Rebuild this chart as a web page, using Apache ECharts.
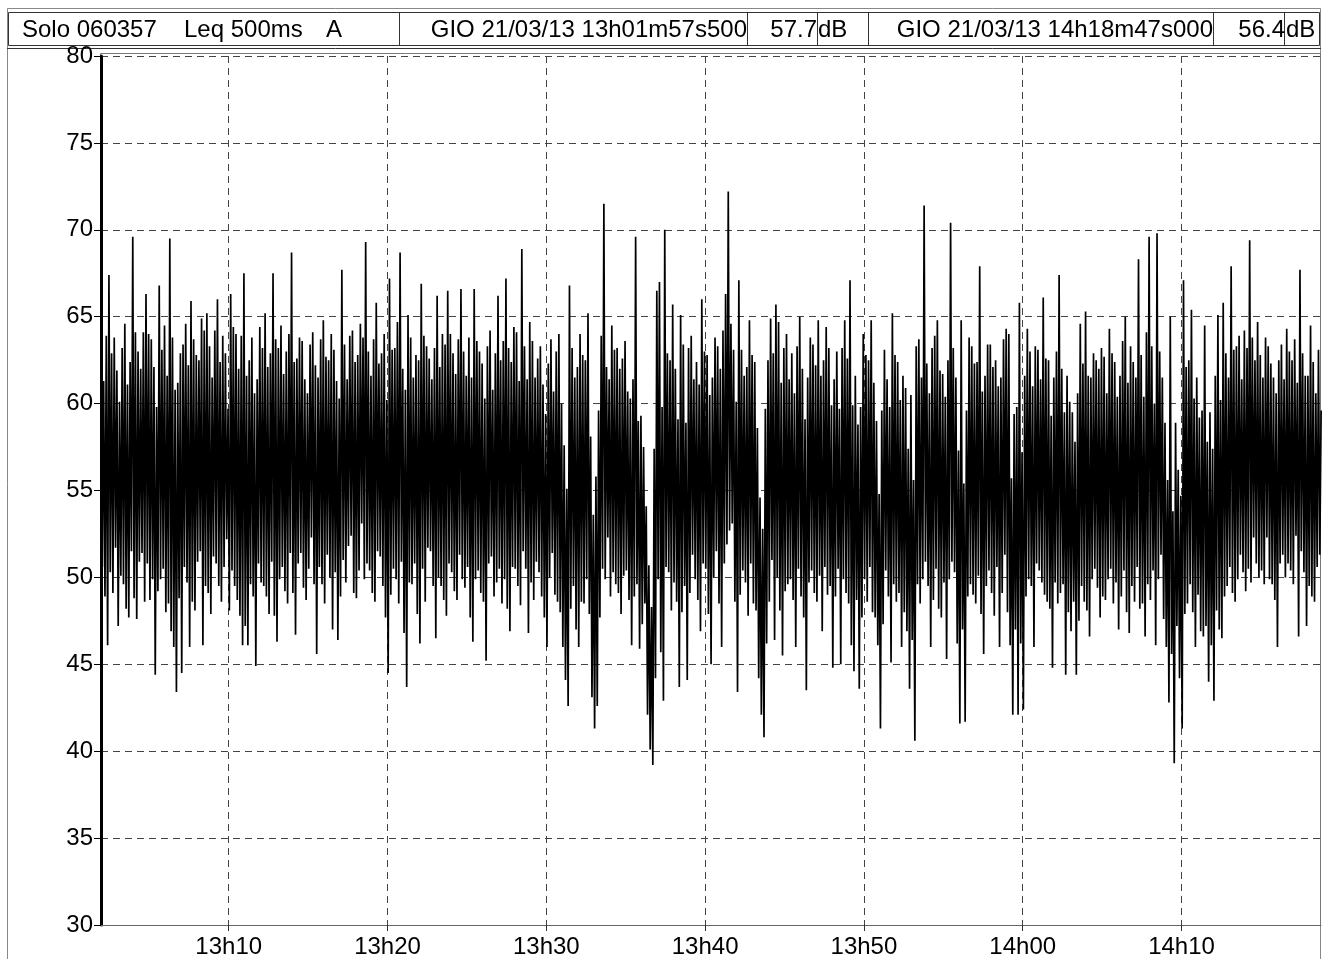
<!DOCTYPE html>
<html>
<head>
<meta charset="utf-8">
<script src="https://cdn.jsdelivr.net/npm/echarts@6/dist/echarts.min.js"></script>
<style>
  html, body { margin: 0; padding: 0; background: #fff; }
  #chart { width: 1322px; height: 959px; }
</style>
</head>
<body>
<div id="chart"></div>
<script>
// minutes after 13h00
var startMin = 1 + 57.5 / 60;   // 13h01m57s500
var endMin = 78 + 47 / 60;      // 14h18m47s000
var stepMin = 5 / 60;           // readings alternate peak / dip every 5 s

var tickMinutes = [10, 20, 30, 40, 50, 60, 70];
var tickLabels = ['13h10', '13h20', '13h30', '13h40', '13h50', '14h00', '14h10'];

// Leq 500ms A, dB - upper readings (even samples)
var peaks = [
    60.4, 61.3, 63.9, 67.4, 62.9, 63.8, 61.9, 60.1, 63.2, 64.6, 61.1, 62.4, 69.6, 64.1, 63.0, 62.0, 64.1, 66.3, 64.0, 63.7,
    62.1, 59.8, 66.8, 63.1, 64.5, 61.6, 69.5, 63.8, 60.8, 61.2, 62.9, 63.4, 64.6, 62.2, 65.9, 63.7, 62.8, 62.5, 64.9, 64.2,
    65.2, 63.3, 61.5, 64.2, 66.0, 62.4, 63.9, 62.9, 59.7, 66.3, 64.4, 64.0, 62.0, 63.9, 67.5, 61.6, 62.5, 63.8, 60.6, 61.4,
    64.4, 63.2, 65.2, 62.1, 62.9, 67.5, 63.7, 63.2, 64.5, 61.7, 63.0, 64.0, 68.7, 62.4, 62.6, 63.8, 63.6, 61.4, 60.6, 63.4,
    64.1, 62.2, 61.5, 63.7, 64.8, 62.7, 62.5, 64.0, 63.1, 61.3, 60.3, 67.7, 63.4, 61.4, 63.9, 64.2, 62.4, 62.8, 64.6, 63.8,
    69.3, 63.0, 61.6, 63.7, 65.8, 62.3, 62.9, 64.0, 60.2, 67.2, 63.1, 63.2, 64.7, 68.7, 62.0, 60.8, 65.1, 63.8, 61.5, 62.8,
    62.5, 66.9, 63.9, 63.3, 62.6, 61.4, 63.2, 66.2, 62.1, 64.0, 63.4, 66.5, 64.0, 62.9, 61.7, 63.7, 66.6, 63.0, 61.6, 63.8,
    61.5, 66.6, 63.6, 63.0, 62.3, 60.3, 63.3, 64.2, 60.8, 62.9, 66.2, 62.5, 63.6, 67.2, 63.2, 62.4, 64.4, 64.1, 61.3, 68.9,
    63.3, 61.4, 64.7, 63.6, 61.5, 62.6, 63.3, 61.1, 59.4, 62.3, 63.7, 60.7, 63.0, 64.0, 60.0, 57.6, 55.1, 66.8, 63.2, 61.5,
    62.1, 64.0, 62.8, 62.5, 65.2, 58.1, 53.6, 55.8, 59.6, 63.9, 71.5, 62.1, 61.4, 64.5, 63.1, 63.2, 62.0, 62.6, 63.6, 60.7,
    60.3, 61.4, 69.6, 59.0, 59.3, 57.5, 54.1, 50.7, 48.3, 57.4, 66.5, 67.0, 59.8, 70.0, 62.9, 62.5, 65.7, 62.0, 59.1, 65.1,
    63.4, 58.9, 63.2, 63.9, 61.4, 62.4, 61.1, 66.0, 63.0, 62.8, 60.5, 61.5, 63.8, 63.3, 62.0, 64.2, 66.3, 72.2, 64.6, 63.1,
    60.1, 67.1, 63.1, 61.6, 62.1, 64.8, 62.8, 62.4, 58.6, 54.6, 52.8, 59.7, 62.5, 64.9, 62.9, 65.7, 64.7, 61.2, 63.2, 64.0,
    61.4, 62.9, 60.6, 63.3, 65.0, 62.0, 59.1, 61.5, 63.8, 63.4, 62.2, 64.8, 61.6, 62.5, 64.4, 63.2, 59.9, 61.4, 63.0, 59.7,
    63.2, 64.8, 62.6, 67.1, 59.9, 61.6, 58.8, 59.8, 64.0, 62.8, 62.5, 64.8, 61.2, 59.0, 54.8, 59.6, 63.1, 61.4, 59.8, 65.2,
    62.8, 62.4, 60.2, 61.6, 60.9, 57.4, 60.5, 55.6, 63.3, 63.7, 61.5, 71.4, 62.3, 60.6, 63.2, 63.9, 64.8, 61.9, 61.7, 60.4,
    62.5, 70.4, 63.2, 61.5, 57.3, 64.8, 55.4, 59.6, 63.8, 63.3, 62.3, 62.4, 67.9, 60.7, 61.6, 63.4, 63.4, 62.1, 62.5, 61.0,
    61.5, 63.7, 64.3, 64.0, 55.7, 59.4, 59.8, 65.8, 57.2, 61.6, 64.3, 63.0, 61.0, 63.3, 63.1, 61.4, 66.1, 62.6, 62.5, 59.3,
    61.5, 63.0, 67.4, 62.0, 59.5, 61.6, 60.1, 59.5, 57.8, 60.6, 64.6, 62.3, 65.3, 61.6, 61.5, 62.9, 62.5, 62.0, 63.2, 62.7,
    60.6, 64.3, 62.9, 62.4, 60.4, 61.6, 63.6, 65.0, 61.2, 63.3, 62.4, 61.5, 68.3, 62.8, 60.4, 64.1, 69.6, 63.3, 60.0, 69.8,
    63.0, 61.5, 58.9, 55.6, 65.0, 53.8, 58.9, 56.2, 54.7, 67.1, 62.1, 62.5, 65.4, 60.3, 61.5, 59.2, 59.6, 64.5, 57.8, 59.5,
    57.4, 61.6, 65.1, 60.2, 65.8, 62.9, 61.5, 67.9, 63.1, 63.3, 63.9, 61.4, 64.2, 63.2, 69.4, 63.8, 62.5, 64.7, 62.8, 61.5,
    63.8, 63.3, 62.3, 61.5, 60.6, 62.5, 63.4, 61.4, 64.3, 63.0, 62.5, 63.7, 61.2, 67.7, 62.9, 61.6, 61.6, 64.5, 62.4, 60.6, 63.1, 59.6
];

// lower readings (odd samples)
var dips = [
    50.6, 48.9, 46.1, 50.3, 49.1, 51.7, 47.2, 50.1, 49.6, 48.2, 47.7, 51.5, 48.8, 47.6, 50.9, 51.4, 48.6, 50.8, 48.7, 49.9,
    44.4, 49.2, 49.9, 50.5, 48.0, 48.5, 46.9, 46.0, 43.4, 48.8, 44.5, 50.6, 49.7, 46.0, 48.6, 48.1, 50.9, 51.5, 46.1, 49.5,
    49.1, 47.9, 51.2, 50.8, 49.5, 48.6, 50.6, 52.2, 48.1, 50.4, 49.5, 48.7, 47.8, 46.1, 47.2, 46.1, 49.6, 48.9, 44.9, 50.8,
    49.7, 49.5, 48.9, 47.9, 50.9, 47.8, 46.3, 49.9, 50.6, 49.2, 48.5, 51.4, 49.1, 46.7, 50.8, 51.4, 49.4, 48.7, 50.5, 52.3,
    49.6, 45.6, 50.6, 49.6, 48.5, 51.3, 50.0, 47.0, 50.3, 46.4, 48.9, 51.0, 49.7, 51.8, 52.4, 49.1, 48.8, 50.4, 53.1, 49.9,
    50.8, 50.4, 49.1, 48.6, 51.5, 51.2, 49.5, 47.7, 44.5, 49.0, 50.5, 49.9, 48.5, 50.9, 46.8, 43.7, 49.7, 49.6, 50.8, 47.9,
    46.2, 50.5, 48.6, 51.7, 51.5, 49.5, 46.5, 50.0, 49.5, 48.7, 47.8, 50.8, 50.3, 49.2, 48.7, 51.3, 49.9, 49.4, 50.6, 47.7,
    46.3, 49.9, 50.4, 49.1, 48.6, 45.2, 50.8, 51.2, 48.9, 49.7, 50.5, 48.5, 49.9, 48.2, 46.9, 50.6, 50.5, 49.5, 48.4, 51.5,
    50.5, 46.8, 49.7, 48.7, 50.9, 50.3, 48.9, 47.7, 46.0, 50.0, 51.4, 49.0, 48.6, 48.0, 46.0, 44.1, 42.6, 48.2, 49.5, 47.0,
    46.0, 48.6, 48.5, 49.9, 47.9, 43.1, 41.3, 42.6, 47.7, 50.5, 49.9, 52.3, 48.9, 50.3, 49.6, 49.1, 47.9, 50.1, 50.4, 48.7,
    46.1, 48.9, 49.6, 45.9, 47.3, 48.5, 42.1, 40.1, 39.2, 44.2, 49.9, 45.7, 42.9, 50.6, 50.3, 48.1, 49.7, 48.6, 43.7, 48.0,
    49.5, 44.1, 49.1, 51.3, 49.9, 48.7, 46.9, 50.8, 50.5, 47.9, 45.0, 50.0, 51.5, 48.5, 46.0, 50.8, 51.9, 52.7, 53.1, 48.6,
    43.4, 49.0, 50.4, 49.7, 47.8, 50.8, 48.5, 48.1, 44.2, 42.1, 40.8, 46.2, 48.6, 51.0, 46.4, 50.0, 48.1, 45.5, 49.2, 49.6,
    49.9, 48.7, 46.0, 50.5, 48.9, 47.7, 43.5, 49.7, 50.4, 49.1, 48.6, 50.1, 46.9, 50.6, 49.0, 49.5, 44.8, 48.9, 50.5, 45.0,
    49.9, 49.1, 48.5, 46.1, 44.6, 48.7, 43.6, 47.7, 49.9, 48.6, 50.6, 48.0, 47.7, 46.1, 41.3, 47.3, 50.4, 48.9, 45.1, 49.6,
    48.6, 49.1, 46.0, 48.0, 46.9, 43.6, 46.4, 40.6, 49.6, 48.5, 49.9, 50.9, 49.5, 46.0, 48.7, 50.5, 48.2, 47.7, 49.7, 45.3,
    49.9, 50.9, 50.3, 46.2, 41.6, 47.0, 41.7, 48.9, 49.6, 49.0, 48.5, 50.1, 47.9, 45.6, 49.5, 50.4, 49.1, 47.8, 50.6, 46.0,
    49.1, 51.3, 48.0, 46.1, 42.1, 47.0, 42.1, 46.2, 42.4, 48.9, 49.9, 49.5, 46.0, 50.8, 50.4, 49.7, 49.0, 48.6, 48.2, 44.8,
    49.7, 48.5, 49.1, 49.6, 44.4, 48.0, 46.9, 48.6, 44.4, 47.5, 49.5, 48.6, 48.1, 46.6, 49.9, 50.5, 49.4, 47.7, 48.9, 48.7,
    49.9, 50.5, 48.5, 49.7, 47.0, 48.9, 50.4, 48.0, 46.8, 49.5, 48.6, 50.6, 48.2, 48.5, 46.6, 49.6, 48.7, 50.4, 46.1, 49.9,
    51.3, 47.6, 46.0, 42.8, 45.6, 39.3, 47.2, 44.2, 41.3, 47.9, 48.5, 49.6, 48.0, 46.0, 49.0, 46.9, 46.6, 47.2, 44.0, 46.1,
    42.9, 48.1, 47.0, 46.5, 48.9, 49.5, 50.6, 49.1, 48.6, 49.9, 51.3, 50.3, 49.2, 50.5, 49.7, 52.3, 50.8, 50.0, 50.4, 49.6,
    52.3, 49.9, 49.6, 48.7, 46.0, 50.8, 51.3, 50.0, 50.8, 50.4, 49.6, 52.4, 46.6, 51.5, 50.3, 47.2, 49.5, 48.9, 48.6, 50.6, 51.3
];

var seriesData = [];
for (var i = 0; i < peaks.length; i++) {
    seriesData.push([startMin + 2 * i * stepMin, peaks[i]]);
    if (i < dips.length) {
        seriesData.push([startMin + (2 * i + 1) * stepMin, dips[i]]);
    }
}

var font = '"Liberation Sans", Arial, sans-serif';
var headY = 30;

option = {
    backgroundColor: '#ffffff',
    animation: false,
    grid: {
        left: 101,
        right: 1,
        top: 56,
        bottom: 33
    },
    xAxis: {
        type: 'value',
        min: startMin,
        max: endMin,
        axisLine: {
            lineStyle: { color: '#666', width: 1 }
        },
        axisTick: {
            customValues: tickMinutes,
            length: 10,
            lineStyle: { color: '#333', type: [6, 4] }
        },
        axisLabel: {
            customValues: tickMinutes,
            margin: 10,
            fontSize: 24,
            fontFamily: font,
            color: '#000',
            formatter: function (v) {
                return tickLabels[tickMinutes.indexOf(Math.round(v))] || '';
            }
        },
        splitLine: {
            show: true,
            lineStyle: { color: '#444', width: 1, type: [7, 5] }
        }
    },
    yAxis: {
        type: 'value',
        min: 30,
        max: 80,
        interval: 5,
        axisLine: {
            show: true,
            lineStyle: { color: '#000', width: 3 }
        },
        axisTick: {
            show: true,
            length: 7,
            lineStyle: { color: '#000', width: 1 }
        },
        axisLabel: {
            margin: 8,
            fontSize: 24,
            fontFamily: font,
            color: '#000'
        },
        splitLine: {
            lineStyle: { color: '#444', width: 1, type: [7, 5] }
        }
    },
    graphic: [
        // outer frame
        { type: 'rect', shape: { x: 7.5, y: 8.5, width: 1313, height: 960 }, style: { fill: null, stroke: '#888', lineWidth: 1 }, silent: true },
        // header bar
        { type: 'rect', shape: { x: 8.5, y: 12.5, width: 1311, height: 33 }, style: { fill: null, stroke: '#333', lineWidth: 1 }, silent: true },
        { type: 'line', shape: { x1: 7, y1: 48.5, x2: 1321, y2: 48.5 }, style: { stroke: '#333', lineWidth: 1 }, silent: true },
        // plot frame
        { type: 'rect', shape: { x: 100.5, y: 53.5, width: 1220, height: 872 }, style: { fill: null, stroke: '#777', lineWidth: 1 }, silent: true },
        // header boxes
        { type: 'rect', shape: { x: 399.5, y: 12.5, width: 348, height: 33 }, style: { fill: null, stroke: '#333', lineWidth: 1 }, silent: true },
        { type: 'rect', shape: { x: 747.5, y: 12.5, width: 70, height: 33 }, style: { fill: null, stroke: '#333', lineWidth: 1 }, silent: true },
        { type: 'rect', shape: { x: 868.5, y: 12.5, width: 345, height: 33 }, style: { fill: null, stroke: '#333', lineWidth: 1 }, silent: true },
        { type: 'rect', shape: { x: 1213.5, y: 12.5, width: 71, height: 33 }, style: { fill: null, stroke: '#333', lineWidth: 1 }, silent: true },
        // header texts
        { type: 'text', x: 22, y: headY, style: { text: 'Solo 060357', font: '24px ' + font, fill: '#000', verticalAlign: 'middle' }, silent: true },
        { type: 'text', x: 184, y: headY, style: { text: 'Leq 500ms', font: '24px ' + font, fill: '#000', verticalAlign: 'middle' }, silent: true },
        { type: 'text', x: 326, y: headY, style: { text: 'A', font: '24px ' + font, fill: '#000', verticalAlign: 'middle' }, silent: true },
        { type: 'text', x: 747, y: headY, style: { text: 'GIO 21/03/13 13h01m57s500', font: '24px ' + font, fill: '#000', align: 'right', verticalAlign: 'middle' }, silent: true },
        { type: 'text', x: 817, y: headY, style: { text: '57.7', font: '24px ' + font, fill: '#000', align: 'right', verticalAlign: 'middle' }, silent: true },
        { type: 'text', x: 818, y: headY, style: { text: 'dB', font: '24px ' + font, fill: '#000', verticalAlign: 'middle' }, silent: true },
        { type: 'text', x: 1213, y: headY, style: { text: 'GIO 21/03/13 14h18m47s000', font: '24px ' + font, fill: '#000', align: 'right', verticalAlign: 'middle' }, silent: true },
        { type: 'text', x: 1285, y: headY, style: { text: '56.4', font: '24px ' + font, fill: '#000', align: 'right', verticalAlign: 'middle' }, silent: true },
        { type: 'text', x: 1286, y: headY, style: { text: 'dB', font: '24px ' + font, fill: '#000', verticalAlign: 'middle' }, silent: true }
    ],
    series: [{
        type: 'line',
        data: seriesData,
        showSymbol: false,
        symbol: 'none',
        sampling: null,
        clip: true,
        lineStyle: {
            color: '#000',
            width: 1.7
        },
        z: 3
    }]
};

var myChart = echarts.init(document.getElementById('chart'));
myChart.setOption(option);
</script>
</body>
</html>
